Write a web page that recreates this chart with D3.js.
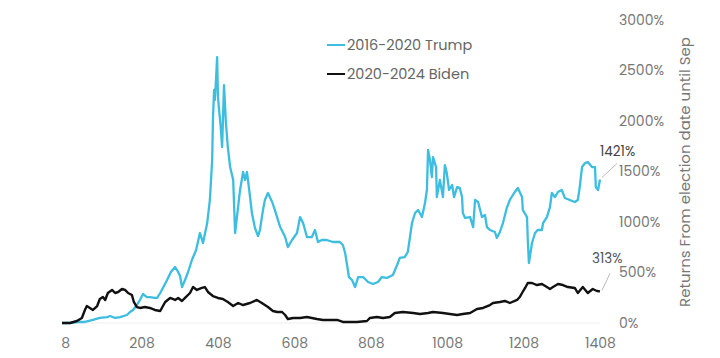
<!DOCTYPE html>
<html><head><meta charset="utf-8">
<script src="https://cdn.jsdelivr.net/npm/d3@7"></script>
<style>html,body{margin:0;padding:0;background:#fff;}</style>
</head><body><svg id="c" width="720" height="358"></svg>
<script>
const xTicks = [8, 208, 408, 608, 808, 1008, 1208, 1408];
const yTicks = [0, 500, 1000, 1500, 2000, 2500, 3000];
const seriesNames = ["2016-2020 Trump", "2020-2024 Biden"];
const trumpDays = [0,21,39,60,81,99,118,126,139,152,170,178,186,196,204,212,222,230,243,249,257,264,275,285,296,304,309,314,322,330,340,351,361,369,380,387,393,395,398,400,403,406,408,411,413,416,419,421,424,429,434,440,445,448,453,466,474,479,484,490,497,505,513,518,526,531,539,550,557,571,584,591,602,615,623,631,641,654,662,670,680,693,709,727,735,741,746,751,759,767,775,788,801,814,827,837,850,866,877,884,897,905,916,924,932,942,950,955,958,963,968,971,979,981,989,997,1002,1007,1013,1021,1026,1034,1041,1047,1049,1055,1068,1076,1081,1089,1099,1107,1112,1120,1133,1138,1146,1154,1164,1172,1185,1193,1204,1206,1217,1219,1222,1230,1238,1245,1256,1259,1269,1277,1282,1290,1298,1308,1316,1329,1342,1350,1355,1361,1369,1376,1387,1395,1397,1403,1408];
const trumpVals = [0,0,10,10,30,50,59,69,50,59,79,109,129,178,228,287,257,257,248,248,297,347,426,505,554,505,465,356,426,505,624,723,891,792,990,1218,1614,2010,2307,2208,2406,2633,2257,2109,2039,1911,1742,1980,2356,1980,1742,1544,1465,1416,891,1317,1495,1416,1495,1317,1089,941,861,921,1119,1218,1287,1198,1119,950,851,752,822,891,1049,990,851,851,921,802,822,822,802,802,772,693,574,455,426,356,455,455,406,386,406,455,446,475,574,644,653,703,990,1089,1119,1049,1188,1317,1713,1614,1445,1643,1544,1247,1416,1247,1564,1485,1317,1366,1247,1346,1337,1247,1089,1040,1049,950,1218,1198,1049,1069,950,921,901,842,901,990,1139,1218,1297,1337,1247,1119,1049,822,594,792,891,921,921,990,1049,1148,1287,1247,1297,1317,1238,1218,1198,1218,1346,1544,1584,1594,1544,1544,1346,1317,1421];
const bidenDays = [0,21,39,52,60,65,73,81,92,99,107,113,120,131,139,147,157,165,173,183,188,196,204,217,230,243,257,270,283,296,304,314,322,335,343,353,366,374,382,395,408,421,434,448,461,474,492,510,523,539,552,563,576,584,591,605,623,641,654,667,683,701,720,735,754,772,798,806,824,840,858,871,892,919,937,958,971,997,1015,1034,1049,1068,1086,1102,1120,1128,1146,1159,1172,1191,1198,1204,1212,1219,1230,1243,1256,1269,1277,1285,1298,1311,1324,1342,1350,1363,1376,1389,1400,1408];
const bidenVals = [0,0,20,50,129,168,149,129,168,238,257,228,297,327,297,307,337,327,297,277,208,158,149,158,149,129,119,208,248,228,248,218,248,297,356,327,347,356,307,267,248,238,208,168,198,178,198,228,198,158,119,109,109,79,40,50,50,59,50,40,30,30,30,10,10,10,20,50,59,50,59,99,109,99,89,99,109,99,89,79,89,99,139,149,178,198,208,218,198,228,257,297,347,396,396,376,386,356,337,356,386,376,356,347,297,356,297,337,317,313];
const endLabels = ["1421%", "313%"];
const yTitle = "Returns From election date until Sep";

const svg = d3.select("#c");
const font = "Poppins, 'Noto Sans', sans-serif";
const x = d3.scaleLinear().domain([0, 1408]).range([62, 600]);
const y = d3.scaleLinear().domain([0, 3000]).range([323, 20]);
const cyan = "#3dbde0", black = "#111";

svg.append("line").attr("x1", x(0)).attr("x2", x(1408)).attr("y1", y(0)).attr("y2", y(0))
  .attr("stroke", "#eee").attr("stroke-width", 1);

const xAxis = svg.append("g").attr("transform", `translate(0,${y(0)})`)
  .call(d3.axisBottom(x).tickValues(xTicks).tickSize(0).tickPadding(15).tickFormat(d3.format("d")));
xAxis.select(".domain").remove();
xAxis.selectAll("text").attr("font-family", font).attr("font-size", 14).attr("fill", "#777");

const yAxis = svg.append("g").attr("transform", `translate(606,0)`)
  .call(d3.axisRight(y).tickValues(yTicks).tickSize(0).tickPadding(13).tickFormat(d => d + "%"));
yAxis.select(".domain").remove();
yAxis.selectAll("text").attr("font-family", font).attr("font-size", 14).attr("fill", "#777");

svg.append("text").attr("transform", "translate(690,172) rotate(-90)").attr("text-anchor", "middle")
  .attr("font-family", font).attr("font-size", 15).attr("fill", "#777").text(yTitle);

const line = d3.line().x(d => x(d[0])).y(d => y(d[1]));
const trump = trumpDays.map((d, i) => [d, trumpVals[i]]);
const biden = bidenDays.map((d, i) => [d, bidenVals[i]]);
svg.append("path").datum(trump).attr("d", line).attr("fill", "none").attr("stroke", cyan).attr("stroke-width", 2.3).attr("stroke-linejoin", "round");
svg.append("path").datum(biden).attr("d", line).attr("fill", "none").attr("stroke", black).attr("stroke-width", 2.4).attr("stroke-linejoin", "round");

// end labels
const tEnd = trump[trump.length - 1], bEnd = biden[biden.length - 1];
svg.append("line").attr("x1", x(tEnd[0]) + 2).attr("y1", y(tEnd[1]) - 2).attr("x2", x(tEnd[0]) + 17).attr("y2", y(tEnd[1]) - 16).attr("stroke", "#bbb");
svg.append("text").attr("x", x(tEnd[0])).attr("y", y(tEnd[1]) - 23).attr("font-family", font).attr("font-size", 13.5).attr("fill", "#444").text(endLabels[0]);
svg.append("line").attr("x1", x(bEnd[0]) + 2).attr("y1", y(bEnd[1]) - 1).attr("x2", x(bEnd[0]) + 10).attr("y2", y(bEnd[1]) - 18).attr("stroke", "#bbb");
svg.append("text").attr("x", x(bEnd[0]) - 8).attr("y", y(bEnd[1]) - 28).attr("font-family", font).attr("font-size", 13.5).attr("fill", "#555").text(endLabels[1]);

// legend
const leg = svg.append("g");
[cyan, black].forEach((c, i) => {
  const yy = 45 + i * 29;
  leg.append("line").attr("x1", 327).attr("x2", 345).attr("y1", yy).attr("y2", yy).attr("stroke", c).attr("stroke-width", 2);
  leg.append("text").attr("x", 347).attr("y", yy).attr("dy", "0.35em").attr("font-family", font).attr("font-size", 14.5).attr("fill", "#666").text(seriesNames[i]);
});
</script></body></html>
